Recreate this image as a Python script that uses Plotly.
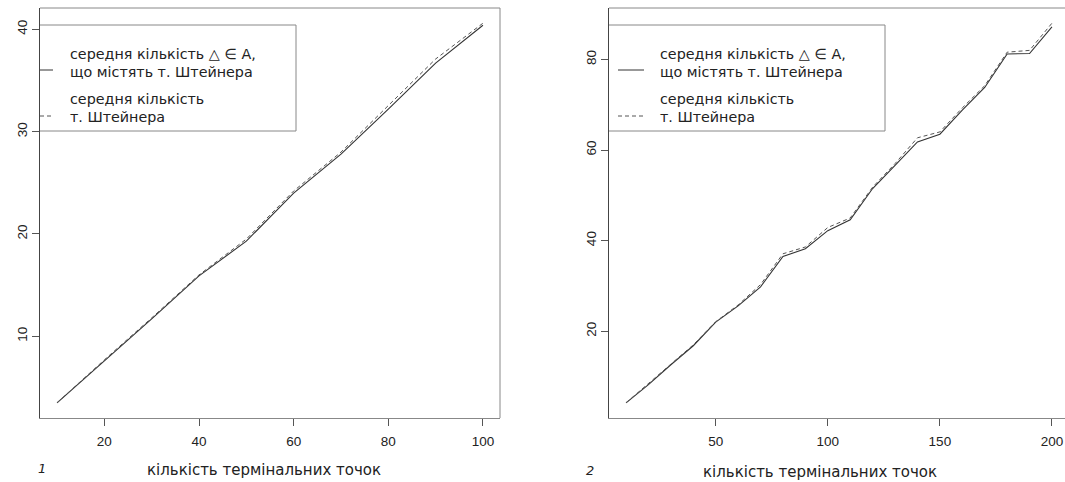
import plotly.graph_objects as go

# ---- data ----
x1 = [10, 20, 30, 40, 50, 60, 70, 80, 90, 100]
tri1 = [3.5, 7.6, 11.7, 15.9, 19.3, 24.0, 27.8, 32.2, 36.7, 40.4]
st1 = [3.5, 7.7, 11.8, 16.0, 19.5, 24.2, 28.0, 32.5, 37.1, 40.6]

x2 = [10, 20, 30, 40, 50, 60, 70, 80, 90, 100, 110, 120, 130, 140, 150, 160, 170, 180, 190, 200]
tri2 = [4.2, 8.2, 12.6, 16.8, 22.0, 25.6, 29.8, 36.5, 38.2, 42.2, 44.6, 51.5, 56.6, 61.8, 63.5, 68.8, 73.8, 81.2, 81.3, 87.2]
st2 = [4.2, 8.4, 12.8, 17.0, 22.1, 25.8, 30.3, 37.1, 38.6, 42.9, 45.0, 51.8, 57.0, 62.7, 64.0, 69.3, 74.2, 81.6, 82.0, 88.0]

xticks1 = [20, 40, 60, 80, 100]
yticks1 = [10, 20, 30, 40]
xticks2 = [50, 100, 150, 200]
yticks2 = [20, 40, 60, 80]

leg_solid = ["середня кількість △ ∈ A,", "що містять т. Штейнера"]
leg_dash = ["середня кількість", "т. Штейнера"]
xlabel = "кількість термінальних точок"
panel_labels = ["1", "2"]

W, H = 1065, 482
def px(x):
    return x / W
def py(y):
    return 1 - y / H

def ext(lo, hi):
    d = (hi - lo) * 0.04
    return [lo - d, hi + d]

LINE = "#333333"
DASH = "#555555"
FRAME = "#888888"
TXT = "#222222"

fig = go.Figure()
fig.add_trace(go.Scatter(x=x1, y=tri1, mode="lines", line=dict(color=LINE, width=1.1),
                         xaxis="x", yaxis="y", showlegend=False))
fig.add_trace(go.Scatter(x=x1, y=st1, mode="lines", line=dict(color=DASH, width=1, dash="4px,3px"),
                         xaxis="x", yaxis="y", showlegend=False))
fig.add_trace(go.Scatter(x=x2, y=tri2, mode="lines", line=dict(color=LINE, width=1.1),
                         xaxis="x2", yaxis="y2", showlegend=False))
fig.add_trace(go.Scatter(x=x2, y=st2, mode="lines", line=dict(color=DASH, width=1, dash="4px,3px"),
                         xaxis="x2", yaxis="y2", showlegend=False))

yr1 = ext(min(tri1 + st1), max(tri1 + st1))
yr2 = ext(min(tri2 + st2), max(tri2 + st2))
xr1 = ext(min(x1), max(x1))
xr2_full = ext(min(x2), max(x2))
# right panel is clipped by the image edge
d1 = [40, 500]
d2 = [609, 1065]
full_w2 = (d1[1] - d1[0])
xr2 = [xr2_full[0], xr2_full[0] + (xr2_full[1] - xr2_full[0]) * (d2[1] - d2[0]) / full_w2]

ydom = [py(418), py(8)]
tickfont = dict(family="Liberation Sans", size=13.5, color=TXT)
axcommon = dict(showgrid=False, zeroline=False, ticks="outside", ticklen=7,
                tickcolor="#555555", tickfont=tickfont, showline=True, linewidth=1)

fig.update_layout(
    width=W, height=H, margin=dict(l=0, r=0, t=0, b=0),
    paper_bgcolor="white", plot_bgcolor="white",
    xaxis=dict(domain=[px(d1[0]), px(d1[1])], range=xr1, tickvals=xticks1, anchor="y",
               linecolor=FRAME, ticklabelstandoff=4, **axcommon),
    yaxis=dict(domain=ydom, range=yr1, tickvals=yticks1, anchor="x", tickangle=-90,
               linecolor="#444444", **axcommon),
    xaxis2=dict(domain=[px(d2[0]), 1.0], range=xr2, tickvals=xticks2, anchor="y2",
                linecolor=FRAME, ticklabelstandoff=4, **axcommon),
    yaxis2=dict(domain=ydom, range=yr2, tickvals=yticks2, anchor="x2", tickangle=-90,
                linecolor="#444444", **axcommon),
)

shapes = []
shapes.append(dict(type="line", xref="paper", yref="paper", x0=px(d1[0]), x1=px(d1[1]), y0=py(8), y1=py(8),
                   line=dict(color=FRAME, width=1)))
shapes.append(dict(type="line", xref="paper", yref="paper", x0=px(d1[1]), x1=px(d1[1]), y0=py(8), y1=py(418),
                   line=dict(color=FRAME, width=1)))
shapes.append(dict(type="line", xref="paper", yref="paper", x0=px(d2[0]), x1=1.0, y0=py(8), y1=py(8),
                   line=dict(color=FRAME, width=1)))

annotations = []
legfont = dict(family="DejaVu Sans", size=14.3, color=TXT)
for (ax0, sym0, sym1, tx, rt) in [(40, 40, 53, 68, 296), (609, 618, 644, 658, 885)]:
    shapes.append(dict(type="line", xref="paper", yref="paper", x0=px(ax0), x1=px(rt), y0=py(25), y1=py(25),
                       line=dict(color=FRAME, width=1)))
    shapes.append(dict(type="line", xref="paper", yref="paper", x0=px(ax0), x1=px(rt), y0=py(131), y1=py(131),
                       line=dict(color=FRAME, width=1)))
    shapes.append(dict(type="line", xref="paper", yref="paper", x0=px(rt), x1=px(rt), y0=py(25), y1=py(131),
                       line=dict(color=FRAME, width=1)))
    shapes.append(dict(type="line", xref="paper", yref="paper", x0=px(sym0), x1=px(sym1), y0=py(70), y1=py(70),
                       line=dict(color=LINE, width=1)))
    shapes.append(dict(type="line", xref="paper", yref="paper", x0=px(sym0), x1=px(sym1), y0=py(116), y1=py(116),
                       line=dict(color=DASH, width=1, dash="4px,3px")))
    for txt, yy in zip(leg_solid + leg_dash, [54, 72, 99, 117]):
        annotations.append(dict(text=txt, xref="paper", yref="paper", x=px(tx), y=py(yy),
                                xanchor="left", yanchor="middle", showarrow=False, font=legfont))

xlabfont = dict(family="DejaVu Sans", size=15, color=TXT)
for lab, cx, cy in [(xlabel, 264, 470), (xlabel, 820, 472)]:
    annotations.append(dict(text=lab, xref="paper", yref="paper", x=px(cx), y=py(cy),
                            xanchor="center", yanchor="middle", showarrow=False, font=xlabfont))
for lab, cx, cy in [(panel_labels[0], 42, 468), (panel_labels[1], 590, 470)]:
    annotations.append(dict(text="<i>" + lab + "</i>", xref="paper", yref="paper", x=px(cx), y=py(cy),
                            xanchor="center", yanchor="middle", showarrow=False,
                            font=dict(family="DejaVu Sans", size=13, color=TXT)))

fig.update_layout(shapes=shapes, annotations=annotations)
fig.write_html("out.html", config={"displayModeBar": False},
               post_script="document.body.style.margin='0';document.body.style.overflow='hidden';")
